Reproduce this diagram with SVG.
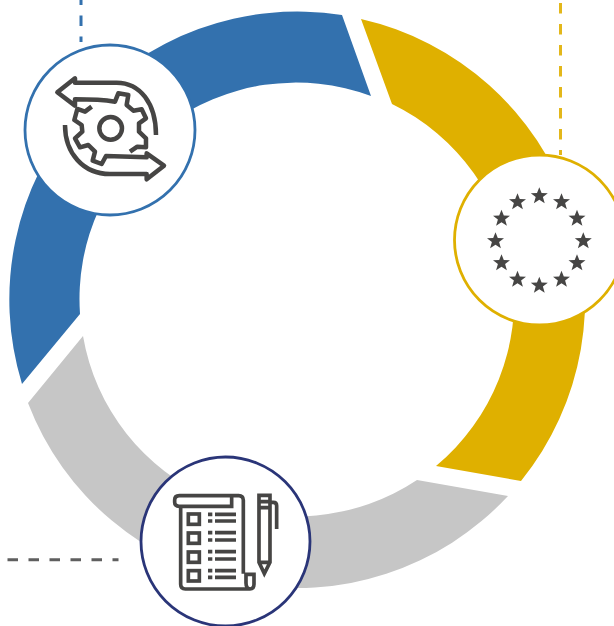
<svg xmlns="http://www.w3.org/2000/svg" xmlns:xlink="http://www.w3.org/1999/xlink" width="614" height="626" viewBox="0 0 614 626">
<style>
.node{fill:#fff;stroke-width:2.8}
.icon{fill:none;stroke:#464544;stroke-width:13.500;stroke-linejoin:round}
.ic3{fill:none;stroke:#464544;stroke-width:11}
.star{fill:#464544}
.dash{fill:none;stroke-width:3;stroke-dasharray:10.500 10.500}
</style>
<defs>
<polygon id="s" class="star" points="0,-8.800 2.300,-2.900 8.500,-2.700 3.600,1.100 5.400,7.200 0,3.700 -5.400,7.200 -3.600,1.100 -8.500,-2.700 -2.300,-2.900"/>
</defs>
<g id="ring">
<path fill="#3371ae" d="M342,15 L371,96 A216.500,216.500 0 0 0 80,314 L22,384 A288,288 0 0 1 342,15 Z"/>
<path fill="#dfb000" d="M361,19 A288,288 0 0 1 521,481 L436,466 A217,217 0 0 0 392,104 Z"/>
<path fill="#c6c6c6" d="M508,496 A288,288 0 0 1 28,403 L83,336 A217,217 0 0 0 417,480 Z"/>
</g>
<g id="connectors">
<path class="dash" stroke="#3371ae" stroke-dashoffset="5.500" d="M81,0 V42"/>
<path class="dash" stroke="#e3b71a" d="M560.500,3 V155"/>
<path class="dash" stroke="#5f5f5f" d="M7.500,559.700 H118.500"/>
</g>
<g id="node-process">
<circle class="node" stroke="#3371ae" cx="110" cy="130" r="85"/>
<g transform="translate(20,40) scale(.3333)">
<circle class="icon" cx="272" cy="265" r="34"/>
<path class="icon" d="M215,200 L195,215 L172,207 L163,240 L185,255 L187,275 L165,295 L180,322 L205,315 L225,335 L218,362 L245,372 L258,348 L380,352 V340 L432,377 L380,418 V402 H270 C190,402 135,340 135,255"/>
<path class="icon" d="M330,335 L352,320 L378,322 L378,295 L357,275 L357,250 L378,235 L365,208 L340,212 L320,195 L325,165 L295,160 L285,185 C240,178 200,178 165,178 V197 L112,157 L165,115 V128 H290 C360,128 408,190 408,285"/>
</g>
</g>
<g id="node-eu">
<circle class="node" stroke="#dfb000" cx="539.500" cy="240" r="85"/>
<use xlink:href="#s" href="#s" x="539.300" y="196"/>
<use xlink:href="#s" href="#s" x="561.500" y="202"/>
<use xlink:href="#s" href="#s" x="577" y="218.500"/>
<use xlink:href="#s" href="#s" x="583.300" y="241"/>
<use xlink:href="#s" href="#s" x="577" y="263"/>
<use xlink:href="#s" href="#s" x="561.500" y="279.500"/>
<use xlink:href="#s" href="#s" x="539.300" y="285.500"/>
<use xlink:href="#s" href="#s" x="517.500" y="279.500"/>
<use xlink:href="#s" href="#s" x="501.500" y="263"/>
<use xlink:href="#s" href="#s" x="495.500" y="241"/>
<use xlink:href="#s" href="#s" x="501.500" y="218.500"/>
<use xlink:href="#s" href="#s" x="517.500" y="202"/>
</g>
<g id="node-checklist">
<circle class="node" stroke="#2a3578" cx="225.500" cy="541.500" r="84.500"/>
<g transform="translate(140,455) scale(.3333)">
<path class="ic3" d="M275,123 V154 H118 Q104,154 104,142 V135 Q104,122 118,122 H296 Q310,122 310,136 V356 M122,154 V388 Q122,402 136,402 H330 Q342,402 342,388 V358 H318 V384 Q318,402 332,402"/>
<rect class="ic3" x="145" y="177" width="33" height="31"/>
<rect class="ic3" x="145" y="234" width="33" height="31"/>
<rect class="ic3" x="145" y="291" width="33" height="31"/>
<rect class="ic3" x="145" y="347" width="33" height="31"/>
<path class="ic3" d="M204,178 H217 M225,178 H288 M204,198 H217 M225,198 H288 M204,233 H217 M225,233 H288 M204,255 H217 M225,255 H288 M204,290 H217 M225,290 H288 M204,312 H217 M225,312 H288 M204,347 H217 M225,347 H288 M204,367 H217 M225,367 H288"/>
<path class="ic3" d="M357,121 H390 V322 L373,356 L357,322 Z M357,140 H390 M357,158 H390 M357,322 H390 M390,142 H400 Q410,142 410,152 V222"/>
</g>
</g>
</svg>
